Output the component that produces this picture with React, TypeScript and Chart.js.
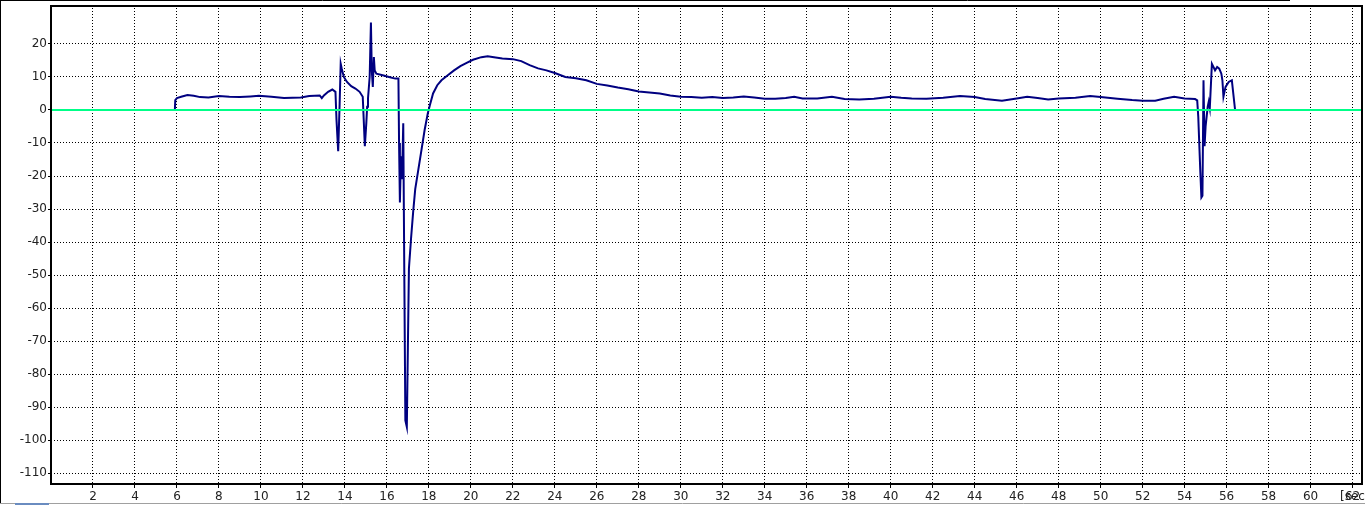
import React, { useEffect, useRef } from 'react';
import { Chart, registerables } from 'chart.js';

Chart.register(...registerables);

const timeSec: number[] = [
  0, 5.9, 5.92, 6.0, 6.2, 6.5, 6.8, 7.1, 7.5, 8.0, 8.5, 9.0, 9.5, 9.9, 10.5, 11.1, 11.9, 12.3, 12.8, 12.9,
  13.0, 13.2, 13.4, 13.55, 13.6, 13.68, 13.75, 13.8, 13.85, 13.95, 14.1, 14.3, 14.5, 14.7, 14.85, 14.95,
  15.02, 15.06, 15.1, 15.18, 15.24, 15.28, 15.33, 15.38, 15.42, 15.5, 15.8, 16.1, 16.4, 16.55, 16.58,
  16.62, 16.67, 16.72, 16.78, 16.83, 16.88, 16.95, 17.0, 17.05, 17.15, 17.25, 17.35, 17.5, 17.65, 17.8,
  17.95, 18.05, 18.2, 18.4, 18.6, 18.9, 19.2, 19.5, 19.8, 20.1, 20.5, 20.8, 21.1, 21.5, 22.0, 22.4, 22.8,
  23.2, 23.6, 24.0, 24.5, 25.0, 25.5, 26.0, 26.5, 27.0, 27.5, 28.0, 28.5, 29.0, 29.5, 30.0, 30.5, 31.0,
  31.5, 32.0, 32.5, 33.0, 33.5, 34.0, 34.5, 35.0, 35.4, 35.8, 36.5, 37.2, 37.8, 38.5, 39.2, 40.0, 40.5,
  41.0, 41.7, 42.5, 43.3, 44.0, 44.5, 45.3, 46.0, 46.5, 47.0, 47.5, 48.0, 48.8, 49.5, 50.0, 50.8, 51.5,
  52.0, 52.6, 53.0, 53.5, 54.0, 54.5, 54.6, 54.65, 54.75, 54.8, 54.85, 54.9, 54.95, 55.0, 55.1, 55.15,
  55.2, 55.3, 55.38, 55.45, 55.55, 55.65, 55.75, 55.8, 55.85, 55.95, 56.1, 56.25, 56.4, 56.42, 62.5,
];

const signal: number[] = [
  0, 0, 3.0, 3.6, 4.0, 4.5, 4.3, 3.9, 3.8, 4.2, 4.0, 3.9, 4.1, 4.3, 4.0, 3.6, 3.8, 4.2, 4.4, 3.6,
  4.4, 5.5, 6.2, 5.5, -3, -12.5, 2, 14, 12.5, 10, 8.5, 7.2, 6.5, 5.5, 4, -11,
  -4, 1, 3.5, 10, 26.5, 12, 7, 16, 12, 11, 10.5, 10, 9.5, 9.5, -10,
  -28, -14, -21, -4, -50, -94, -96, -72, -48, -39, -31, -24, -18, -12, -6,
  -1, 1.5, 5, 7.5, 9, 10.5, 12, 13.3, 14.3, 15.2, 16, 16.3, 16, 15.6, 15.4, 14.8, 13.6,
  12.6, 12, 11.2, 10, 9.6, 9.0, 7.9, 7.4, 6.8, 6.3, 5.6, 5.3, 5.0, 4.4, 4.0, 3.9, 3.7,
  3.9, 3.6, 3.8, 4.1, 3.8, 3.4, 3.4, 3.6, 4.0, 3.5, 3.5, 4.0, 3.3, 3.2, 3.4, 4.0, 3.7,
  3.5, 3.4, 3.7, 4.2, 3.9, 3.3, 2.8, 3.5, 4.0, 3.6, 3.2, 3.5, 3.7, 4.2, 3.9, 3.4, 3.0,
  2.8, 2.8, 3.4, 4.0, 3.5, 3.3, 2.9, -2, -19, -26.5, -26, 9, -11, -5, 1, 2.5,
  0.6, 14, 13, 12, 13, 12.5, 11, 9, 4, 7, 8.5, 9, 0.3, 0, 0,
];

const zeroLineT: number[] = [0, 62.45];
const zeroLineV: number[] = [0, 0];

const yTickValues: number[] = [20, 10, 0, -10, -20, -30, -40, -50, -60, -70, -80, -90, -100, -110];
const xTickValues: number[] = [
  2, 4, 6, 8, 10, 12, 14, 16, 18, 20, 22, 24, 26, 28, 30, 32, 34, 36, 38, 40, 42, 44, 46, 48, 50, 52,
  54, 56, 58, 60, 62,
];
const xUnitLabel = '[sec]';

const X_MIN = 0;
const X_MAX = 62.45;
const Y_MIN = -113.6;
const Y_MAX = 31.8;

export default function App() {
  const ref = useRef<HTMLCanvasElement>(null);

  useEffect(() => {
    document.body.style.margin = '0';
    const canvas = ref.current;
    if (!canvas) return;

    const framePlugin = {
      id: 'framePlugin',
      afterDraw(chart: any) {
        const c = chart.ctx as CanvasRenderingContext2D;
        const a = chart.chartArea;
        c.save();
        c.strokeStyle = '#000';
        c.lineWidth = 2;
        c.setLineDash([]);
        c.strokeRect(a.left, a.top + 1, a.right - a.left, a.bottom - a.top - 2);
        // outer widget edges
        c.lineWidth = 1;
        c.beginPath();
        c.moveTo(0.5, 0);
        c.lineTo(0.5, 503);
        c.stroke();
        c.beginPath();
        c.moveTo(0, 0.5);
        c.lineTo(1290, 0.5);
        c.stroke();
        c.strokeStyle = '#a0a0a0';
        c.beginPath();
        c.moveTo(0, 503.5);
        c.lineTo(1365, 503.5);
        c.stroke();
        c.strokeStyle = '#6a8cc0';
        c.lineWidth = 2;
        c.beginPath();
        c.moveTo(15, 504);
        c.lineTo(49, 504);
        c.stroke();
        // unit label
        c.fillStyle = '#222';
        c.font = '12px "DejaVu Sans"';
        c.textAlign = 'left';
        c.textBaseline = 'alphabetic';
        c.fillText(xUnitLabel, 1340, 500);
        c.restore();
      },
    };

    const chart = new Chart(canvas, {
      type: 'scatter',
      data: {
        datasets: [
          {
            data: zeroLineT.map((t, i) => ({ x: t, y: zeroLineV[i] })),
            showLine: true,
            borderColor: '#00ff88',
            borderWidth: 2,
            pointRadius: 0,
            order: 0,
          },
          {
            data: timeSec.map((t, i) => ({ x: t, y: signal[i] })),
            showLine: true,
            borderColor: '#000080',
            borderWidth: 2,
            pointRadius: 0,
            order: 1,
          },
        ],
      },
      options: {
        responsive: false,
        animation: false,
        layout: { padding: { top: 5, right: 3, left: 0, bottom: 0 } },
        plugins: { legend: { display: false }, tooltip: { enabled: false } },
        scales: {
          x: {
            type: 'linear',
            min: X_MIN,
            max: X_MAX,
            afterFit: (s: any) => {
              s.height = 20;
              s.paddingLeft = 0;
              s.paddingRight = 0;
            },
            afterBuildTicks: (s: any) => {
              s.ticks = xTickValues.map((v) => ({ value: v }));
            },
            grid: { color: '#000', lineWidth: 1, tickLength: 3, drawTicks: true },
            border: { display: false, dash: [1, 2] },
            ticks: {
              color: '#222',
              font: { family: 'DejaVu Sans', size: 12 },
              padding: 2,
              maxRotation: 0,
              autoSkip: false,
              callback: (v: any) => String(v),
            },
          },
          y: {
            type: 'linear',
            min: Y_MIN,
            max: Y_MAX,
            afterFit: (s: any) => {
              s.width = 51;
              s.paddingTop = 0;
              s.paddingBottom = 0;
            },
            afterBuildTicks: (s: any) => {
              s.ticks = yTickValues.map((v) => ({ value: v }));
            },
            grid: { color: '#000', lineWidth: 1, tickLength: 3, drawTicks: true },
            border: { display: false, dash: [1, 2] },
            ticks: {
              color: '#222',
              font: { family: 'DejaVu Sans', size: 12 },
              padding: 1,
              autoSkip: false,
              callback: (v: any) => String(v),
            },
          },
        },
      },
      plugins: [framePlugin],
    });

    return () => chart.destroy();
  }, []);

  return <canvas ref={ref} width={1365} height={505} style={{ display: 'block' }} />;
}
